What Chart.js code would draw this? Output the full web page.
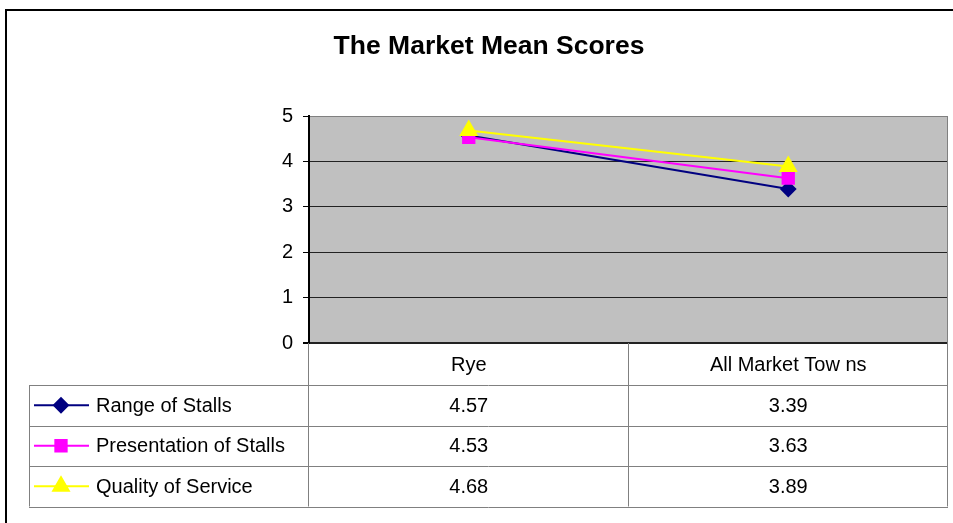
<!DOCTYPE html>
<html>
<head>
<meta charset="utf-8">
<script src="https://cdn.jsdelivr.net/npm/chart.js@4.4.0/dist/chart.umd.min.js"></script>
<style>
  html, body { margin: 0; padding: 0; background: #fff; }
  #wrap { width: 953px; height: 523px; }
</style>
</head>
<body>
<div id="wrap"><canvas id="marketChart"></canvas></div>
<script>
const categories = ['Rye', 'All Market Tow ns'];
const seriesNames = ['Range of Stalls', 'Presentation of Stalls', 'Quality of Service'];
const rangeOfStalls = [4.57, 3.39];
const presentationOfStalls = [4.53, 3.63];
const qualityOfService = [4.68, 3.89];
const yTicks = [0, 1, 2, 3, 4, 5];
const chartTitle = 'The Market Mean Scores';

const FONT = "'Liberation Sans', Arial, sans-serif";

// grey plot area, outer frame and title
const plotBack = {
    id: 'plotBack',
    beforeDraw(chart) {
        const ctx = chart.ctx, a = chart.chartArea;
        ctx.save();
        ctx.fillStyle = '#fff';
        ctx.fillRect(0, 0, chart.width, chart.height);
        ctx.fillStyle = '#c0c0c0';
        ctx.fillRect(a.left, a.top, a.right - a.left, a.bottom - a.top);
        ctx.strokeStyle = '#000';
        ctx.lineWidth = 2;
        ctx.strokeRect(6, 10, chart.width + 20, chart.height + 20);
        ctx.fillStyle = '#000';
        ctx.font = 'bold 26.5px ' + FONT;
        ctx.textAlign = 'center';
        ctx.textBaseline = 'middle';
        ctx.fillText(chartTitle, 489, 47);
        ctx.restore();
    },
    afterDatasetsDraw(chart) {
        const ctx = chart.ctx, a = chart.chartArea;
        ctx.save();
        ctx.strokeStyle = '#808080';
        ctx.lineWidth = 1;
        ctx.beginPath();
        ctx.moveTo(a.right - 0.5, a.top);
        ctx.lineTo(a.right - 0.5, a.bottom);
        ctx.stroke();
        ctx.restore();
    }
};

// Excel style data table under the plot
const dataTable = {
    id: 'dataTable',
    afterDraw(chart) {
        const ctx = chart.ctx, a = chart.chartArea;
        const x = chart.scales.x;
        const n = categories.length;
        const colW = (a.right - a.left) / n;
        const headH = 42, rowH = 40.5;
        const tableLeft = 29;
        const top = a.bottom;
        const bottom = top + headH + rowH * seriesNames.length;

        ctx.save();
        ctx.strokeStyle = '#808080';
        ctx.lineWidth = 1;
        ctx.beginPath();
        for (let i = 0; i <= n; i++) {
            const cx = Math.round(a.left + i * colW) - 0.5;
            ctx.moveTo(cx, top);
            ctx.lineTo(cx, bottom);
        }
        for (let r = 0; r <= seriesNames.length; r++) {
            const ry = Math.round(top + headH + r * rowH) + 0.5;
            ctx.moveTo(tableLeft, ry);
            ctx.lineTo(a.right, ry);
        }
        ctx.moveTo(tableLeft + 0.5, top + headH);
        ctx.lineTo(tableLeft + 0.5, bottom);
        ctx.stroke();

        ctx.fillStyle = '#000';
        ctx.font = '20px ' + FONT;
        ctx.textAlign = 'center';
        ctx.textBaseline = 'middle';
        categories.forEach((c, i) => {
            ctx.fillText(c, x.getPixelForValue(i), top + headH / 2 + 1);
        });

        chart.data.datasets.forEach((ds, r) => {
            const cy = top + headH + rowH * r + rowH / 2 + 1;
            ds.data.forEach((v, i) => {
                ctx.textAlign = 'center';
                ctx.fillStyle = '#000';
                ctx.fillText(v.toFixed(2), x.getPixelForValue(i), cy);
            });
            // legend key
            ctx.strokeStyle = ds.borderColor;
            ctx.lineWidth = 2;
            ctx.beginPath();
            ctx.moveTo(34, cy - 1);
            ctx.lineTo(89, cy - 1);
            ctx.stroke();
            Chart.helpers.drawPoint(ctx, {
                pointStyle: ds.pointStyle,
                radius: ds.pointRadius,
                borderWidth: 1
            }, 61, cy - 1);
            ctx.fillStyle = ds.backgroundColor;
            ctx.strokeStyle = ds.borderColor;
            ctx.fill();
            ctx.textAlign = 'left';
            ctx.fillStyle = '#000';
            ctx.fillText(seriesNames[r], 96, cy);
        });
        ctx.restore();
    }
};

const chartCanvas = document.getElementById('marketChart').getContext('2d');
const marketChart = new Chart(chartCanvas, {
    type: 'line',
    data: {
        labels: categories,
        datasets: [{
            label: seriesNames[0],
            data: rangeOfStalls,
            borderColor: '#000080',
            backgroundColor: '#000080',
            pointStyle: 'rectRot',
            pointRadius: 7,
            borderWidth: 2,
            order: 3
        }, {
            label: seriesNames[1],
            data: presentationOfStalls,
            borderColor: '#ff00ff',
            backgroundColor: '#ff00ff',
            pointStyle: 'rect',
            pointRadius: 8,
            borderWidth: 2,
            order: 2
        }, {
            label: seriesNames[2],
            data: qualityOfService,
            borderColor: '#ffff00',
            backgroundColor: '#ffff00',
            pointStyle: 'triangle',
            pointRadius: 9,
            borderWidth: 2,
            order: 1
        }]
    },
    options: {
        responsive: true,
        maintainAspectRatio: false,
        animation: false,
        layout: { autoPadding: false, padding: { left: 0, right: 5, top: 116, bottom: 180 } },
        plugins: {
            legend: { display: false },
            tooltip: { enabled: false },
            title: { display: false }
        },
        scales: {
            x: {
                display: false,
                offset: true
            },
            y: {
                min: 0,
                max: 5,
                afterFit: (s) => { s.width = 309; },
                afterBuildTicks: (s) => { s.ticks = yTicks.map(v => ({ value: v })); },
                ticks: {
                    color: '#000',
                    padding: 10,
                    font: { family: FONT, size: 20 }
                },
                grid: {
                    color: (c) => c.tick && c.tick.value === 5 ? '#808080' : '#222',
                    lineWidth: (c) => c.tick && c.tick.value === 0 ? 2 : 1,
                    tickColor: '#000',
                    tickLength: 6
                },
                border: { display: true, color: '#000', width: 2 }
            }
        }
    },
    plugins: [plotBack, dataTable]
});
</script>
</body>
</html>
